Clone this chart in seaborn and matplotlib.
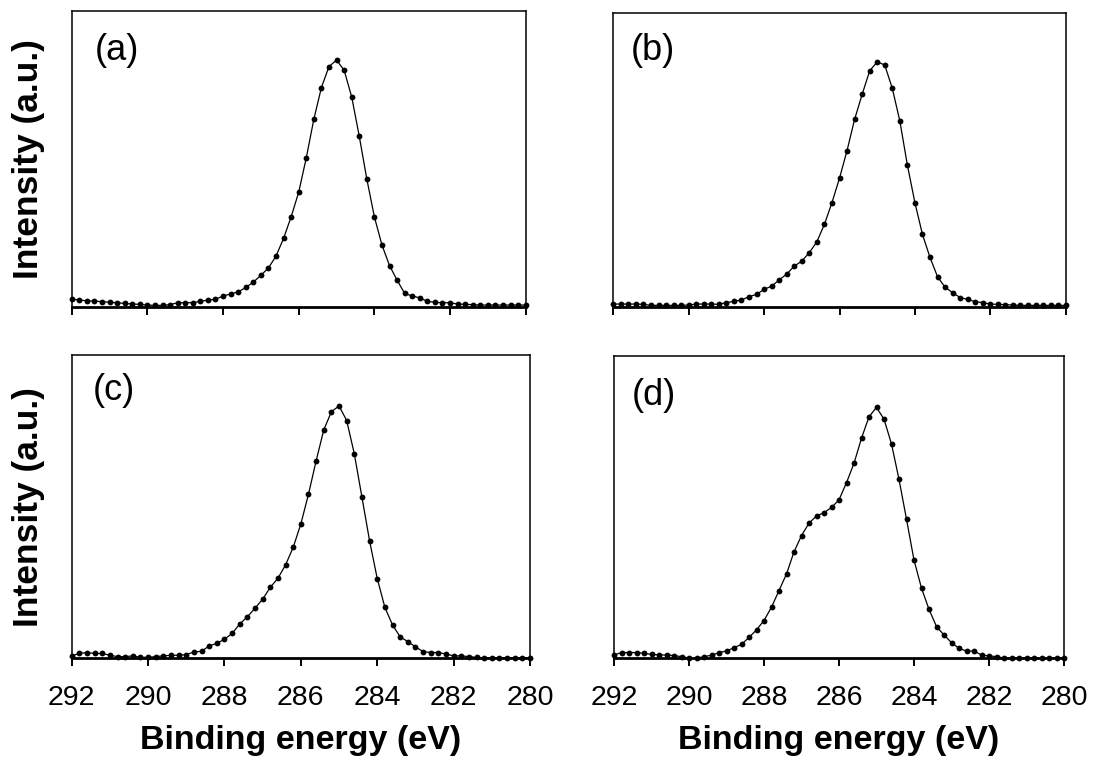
import numpy as np
import pandas as pd
import matplotlib
matplotlib.use("Agg")
import matplotlib.pyplot as plt
import seaborn as sns

sns.set_style("white")
plt.rcParams["font.family"] = ["Liberation Sans", "DejaVu Sans"]
plt.rcParams["text.color"] = "black"
plt.rcParams["axes.labelcolor"] = "black"
plt.rcParams["xtick.color"] = "black"
plt.rcParams["xtick.labelcolor"] = "black"

# C 1s spectra, 292 -> 280 eV in 0.2 eV steps (61 points each)
energy = np.round(np.linspace(292.0, 280.0, 61), 1)

spec_a = [2.6, 2.25, 2.0, 1.9, 1.7, 1.5, 1.35, 1.1, 0.9, 0.8,
          0.56, 0.45, 0.45, 0.68, 1.35, 1.35, 1.35, 1.8, 2.25, 2.5,
          3.6, 4.3, 5.0, 6.5, 8.3, 10.6, 13.1, 17.1, 23.1, 30.4,
          38.7, 50.3, 63.4, 74.1, 81.2, 83.4, 80.0, 71.0, 57.7, 43.2,
          30.4, 20.9, 13.9, 9.0, 4.5, 3.6, 3.0, 1.8, 1.5, 1.35,
          1.35, 0.9, 0.8, 0.7, 0.56, 0.56, 0.56, 0.56, 0.56, 0.56, 0.56]

spec_b = [0.9, 0.9, 0.9, 0.9, 0.8, 0.45, 0.45, 0.45, 0.45, 0.45,
          0.57, 0.9, 0.9, 0.9, 0.8, 1.4, 1.8, 2.3, 3.4, 4.2,
          5.9, 7.0, 9.1, 11.1, 13.8, 15.5, 18.4, 22.1, 28.0, 35.4,
          43.7, 53.1, 63.7, 72.2, 80.2, 83.3, 82.2, 74.3, 63.2, 48.2,
          35.4, 24.6, 16.8, 10.2, 6.6, 4.8, 3.1, 2.5, 1.7, 1.4,
          0.9, 0.8, 0.7, 0.57, 0.45, 0.45, 0.45, 0.45, 0.45, 0.45, 0.45]

spec_c = [0.8, 1.6, 1.9, 1.6, 1.6, 1.0, 0.55, 0.55, 0.8, 0.33,
          0.33, 0.55, 0.8, 1.0, 1.0, 1.2, 2.1, 2.3, 4.1, 4.9,
          6.3, 8.2, 11.3, 13.7, 16.5, 19.5, 23.4, 26.4, 30.8, 36.6,
          44.3, 54.1, 65.1, 75.3, 81.3, 83.2, 78.4, 67.4, 53.1, 38.7,
          26.3, 16.8, 11.0, 7.1, 5.5, 3.8, 2.2, 1.9, 1.9, 1.4,
          0.8, 0.8, 0.55, 0.33, 0.15, 0.15, 0.15, 0.15, 0.15, 0.15, 0.15]

spec_d = [1.1, 1.9, 1.9, 1.9, 1.65, 1.3, 1.1, 1.1, 0.9, 0.55,
          0.1, 0.05, 0.55, 1.0, 1.9, 2.4, 3.5, 4.6, 6.9, 9.4,
          12.5, 16.9, 22.4, 27.9, 35.2, 40.6, 44.7, 47.1, 48.2, 49.9,
          52.4, 58.1, 64.5, 72.8, 79.9, 83.0, 79.1, 70.9, 59.2, 46.0,
          32.5, 23.2, 16.2, 10.5, 7.7, 5.2, 3.3, 2.4, 2.4, 1.1,
          0.8, 0.55, 0.1, 0.05, 0.05, 0.05, 0.05, 0.05, 0.05, 0.05, 0.05]

panel_labels = ["(a)", "(b)", "(c)", "(d)"]
xticks = [292, 290, 288, 286, 284, 282, 280]
xlabel = "Binding energy (eV)"
ylabel = "Intensity (a.u.)"

W, H = 1093, 761
fig = plt.figure(figsize=(W / 100, H / 100), dpi=100)

# axes boxes in pixels: left, top, right, bottom
boxes = [(71.7, 11.0, 525.7, 306.7),
         (613.3, 12.7, 1065.7, 306.7),
         (71.7, 355.0, 530.0, 658.3),
         (614.0, 356.0, 1064.0, 658.3)]
label_offsets = [(23, 22), (17, 20), (21, 18), (18, 22)]

for k, (spec, lab, box, off) in enumerate(zip([spec_a, spec_b, spec_c, spec_d],
                                              panel_labels, boxes, label_offsets)):
    l, t, r, b = box
    ax = fig.add_axes([l / W, (H - b) / H, (r - l) / W, (b - t) / H])
    df = pd.DataFrame({"energy": energy, "intensity": spec})
    sns.lineplot(data=df, x="energy", y="intensity", ax=ax, color="black",
                 linewidth=0.9, marker="o", markersize=4.2,
                 markeredgewidth=0, markerfacecolor="black", clip_on=False)
    ax.set_xlim(292, 280)
    ax.set_ylim(0, 100)
    ax.set_xticks(xticks)
    ax.set_yticks([])
    for side in ["top", "left", "right"]:
        ax.spines[side].set_linewidth(1.1)
        ax.spines[side].set_color("black")
    ax.spines["bottom"].set_linewidth(2.0)
    ax.spines["bottom"].set_color("black")
    ax.tick_params(axis="x", direction="out", length=6, width=1.4,
                   color="black", labelcolor="black", labelsize=20.5,
                   pad=13.5, bottom=True)
    w_px, h_px = r - l, b - t
    ax.text(off[0] / w_px, 1 - off[1] / h_px, lab, transform=ax.transAxes,
            ha="left", va="top", fontsize=26, color="black")
    if k < 2:
        ax.set_xticklabels([])
        ax.set_xlabel("")
    else:
        ax.set_xlabel(xlabel, fontsize=24.5, fontweight="bold", color="black")
        ax.xaxis.set_label_coords(0.5, -(740 - b) / h_px)
        ax.xaxis.label.set_va("center")
    if k % 2 == 0:
        ax.set_ylabel(ylabel, fontsize=25.5, fontweight="bold", color="black")
        ax.yaxis.set_label_coords(-(l - 29) / w_px, 0.5)
        ax.yaxis.label.set_va("center")
    else:
        ax.set_ylabel("")

fig.savefig("out.png", dpi=100, facecolor="white")
